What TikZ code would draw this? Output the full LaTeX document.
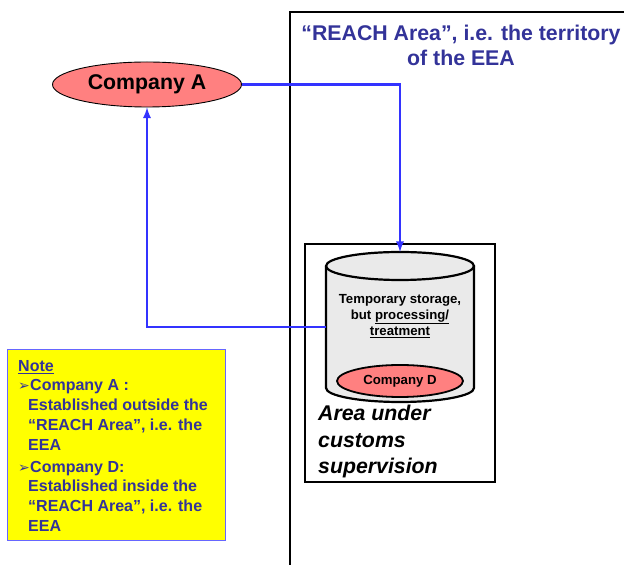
\documentclass[tikz,border=0pt]{standalone}
\usepackage{fontspec}
\setmainfont{Liberation Sans}
\newfontfamily\symfont{DejaVu Sans}
\usepackage{tikz}
\usepackage{xcolor}
\usetikzlibrary{shapes.geometric,positioning}
\definecolor{salmon}{HTML}{FF8080}
\definecolor{linkblue}{HTML}{3333FF}
\definecolor{navy}{HTML}{333399}
\definecolor{notefill}{HTML}{FFFF00}
\definecolor{noteline}{HTML}{6666FF}
\definecolor{drumgray}{HTML}{EAEAEA}
\newcommand{\bigtext}{\fontsize{21.3}{25}\selectfont\bfseries}
\newcommand{\smalltext}{\fontsize{13.2}{16}\selectfont\bfseries}
\newcommand{\notebullet}{\makebox[12pt][l]{\symfont\fontsize{14}{14}\selectfont ➢}}

\begin{document}
\begin{tikzpicture}[x=1pt,y=1pt]
  \tikzset{company/.style={draw,ellipse,fill=salmon,inner sep=0pt}}
  \tikzset{link/.style={->,>=latex,linkblue,line width=2.6pt}}
  \tikzset{drum/.style={fill=drumgray,draw,line width=2.2pt}}
  \useasboundingbox (0,0) rectangle (624,565);
  \clip (0,0) rectangle (624,565);
  \draw[line width=2.2pt] (290,-10) rectangle (660,553);
  \node[navy,align=center,font=\bigtext] (reach) at (461,520) {“REACH Area”, i.e. the territory\\of the EEA};
  \node[company,line width=0.9pt,minimum width=189,minimum height=45,font=\bigtext] (compA) at (147,480.5) {Company A};
  \node[draw,line width=2.2pt,minimum width=190,minimum height=238,anchor=north west] (customs) at (304,322) {};
  % drum
  \node[minimum width=148,minimum height=150,inner sep=0pt,outer sep=0pt] (store) at (400,238) {};
  \filldraw[drum] ([yshift=-14pt]store.north west) -- ([yshift=14pt]store.south west)
    arc[start angle=180,end angle=360,x radius=74pt,y radius=14pt] -- ([yshift=-14pt]store.north east);
  \filldraw[drum] ([yshift=-14pt]store.north) ellipse[x radius=74pt,y radius=14pt];
  \node[align=center,font=\smalltext] (storetxt) at (400,249) {Temporary storage,\\but \underline{processing/}\\\underline{treatment}};
  \node[company,line width=1.8pt,minimum width=126,minimum height=32,font=\smalltext] (compD) at (400,184) {Company D};
  \node[anchor=north west,align=left,inner sep=0pt,font=\fontsize{21.3}{26.5}\selectfont\bfseries\itshape] (area) at (318,160) {Area under\\customs\\supervision};
  % note
  \node[draw=noteline,fill=notefill,line width=1.4pt,minimum width=218,minimum height=191,anchor=north west] (note) at (7,216) {};
  \node[anchor=north west,align=left,inner sep=0pt,navy,font=\fontsize{16}{19.7}\selectfont\bfseries] (notetxt) at ([xshift=11,yshift=-11]note.north west)
    {\underline{Note}\\
     \notebullet Company A :\\
     \hspace*{10pt}Established outside the\\
     \hspace*{10pt}“REACH Area”, i.e. the\\
     \hspace*{10pt}EEA\\[2.5pt]
     \notebullet Company D:\\
     \hspace*{10pt}Established inside the\\
     \hspace*{10pt}“REACH Area”, i.e. the\\
     \hspace*{10pt}EEA};
  \draw[link] (compA.east) -| (store.north);
  \draw[link] (store.west) -| (compA.south);
\end{tikzpicture}
\end{document}
